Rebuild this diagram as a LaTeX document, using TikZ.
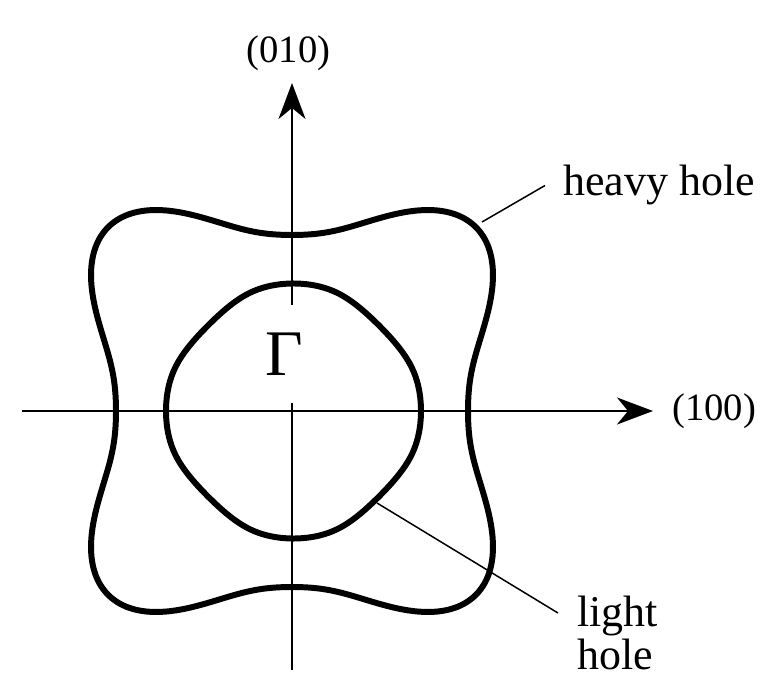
\documentclass[tikz,border=0pt]{standalone}
\usepackage{fontspec}
\setmainfont{Liberation Serif}
\usetikzlibrary{positioning, arrows.meta}

\begin{document}
\begin{tikzpicture}[
    axis/.style={line width=1.1pt, -{Stealth[length=0.72cm, width=0.54cm, inset=0.22cm]}},
    band/.style={line width=3.4pt, line join=round},
    leader/.style={line width=0.85pt},
    lbl/.style={inner sep=0pt, font=\fontsize{25}{24}\selectfont},
    axlbl/.style={inner sep=0pt, font=\fontsize{22}{26}\selectfont}
  ]

  % 全体の枠
  \useasboundingbox (-5.84, -5.32) rectangle (9.5, 8.22);

  % 軸
  \coordinate (ybot) at (0, -5.18);
  \coordinate (ytop) at (0, 6.56);
  \coordinate (xleft) at (-5.4, 0);
  \coordinate (xright) at (7.22, 0);
  \draw[axis] (ybot) -- (ytop);
  \draw[axis] (xleft) -- (xright);
  \node[axlbl, anchor=base] (ky) at (-0.07, 6.96) {(010)};
  \node[axlbl, anchor=base west] (kx) at (7.6, -0.18) {(100)};

  % Γ点
  \node[fill=white, minimum width=1.6cm, minimum height=1.96cm, font=\fontsize{37}{40}\selectfont] (gamma) at (-0.16, 1.14) {Γ};

  % heavy hole
  \draw[band] plot[domain=0:360, samples=181, smooth cycle] (\x:{4.24-0.84*cos(4*\x)+0.12*cos(8*\x)});

  % light hole（円と斜めの平らな辺をなめらかにつなぐ）
  \draw[band] plot[domain=0:358, samples=180, smooth cycle] ([xshift=0.03cm]\x:{2.55*pow(1+pow(2.55*cos(mod(\x,90)-45)/2.47,20),-0.05)});

  % ラベル
  \node[lbl, anchor=base west] (heavy) at (5.42, 4.3) {heavy hole};
  \coordinate (hh) at (3.8, 3.78);
  \draw[leader] (hh) -- ([xshift=-0.36cm]heavy.west);

  \node[lbl, anchor=north west, align=left] (light) at (5.7, -3.7) {light\\hole};
  \coordinate (lh) at (1.7, -1.84);
  \coordinate (lhend) at (5.32, -4.04);
  \draw[leader] (lh) -- (lhend);

\end{tikzpicture}
\end{document}
